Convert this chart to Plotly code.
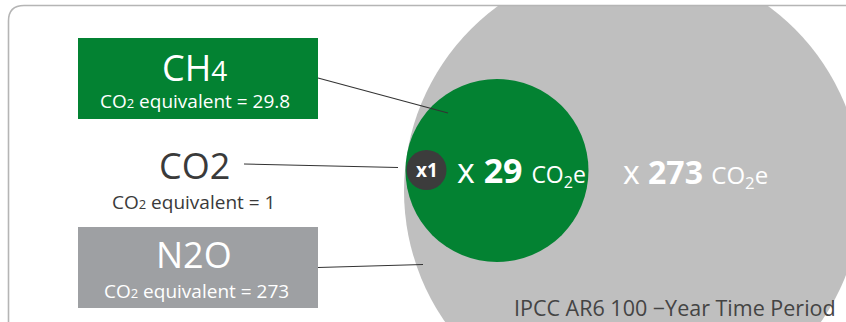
import plotly.graph_objects as go

# ---- data ----
gases = ["CH4", "CO2", "N2O"]
gas_main = ["CH", "CO2", "N2O"]
gas_small = ["4", "", ""]
co2_equiv = ["29.8", "1", "273"]
multipliers = ["1", "29", "273"]
footnote = "IPCC AR6 100 \u2212Year Time Period"

FONT = "Open Sans"
GREEN = "#038232"
GRAYBOX = "#9ea0a3"
GRAYCIRCLE = "#bfbfbf"
DARK = "#3c3c3c"
TXT = "#3a3a3a"

fig = go.Figure()
# invisible trace to establish the axes
fig.add_trace(go.Scatter(x=[0, 846], y=[0, 322], mode="markers",
                         marker=dict(opacity=0), hoverinfo="skip", showlegend=False))

shapes = []
# big gray circle (N2O)
cx, cy, r = 633, 191, 229
shapes.append(dict(type="circle", xref="x", yref="y", x0=cx - r, x1=cx + r, y0=cy - r, y1=cy + r,
                   fillcolor=GRAYCIRCLE, line=dict(width=0), layer="below"))
# green circle (CH4)
cx, cy, r = 497, 170.5, 91.5
shapes.append(dict(type="circle", xref="x", yref="y", x0=cx - r, x1=cx + r, y0=cy - r, y1=cy + r,
                   fillcolor=GREEN, line=dict(width=0), layer="below"))
# dark circle (CO2)
cx, cy, r = 426.5, 170, 20
shapes.append(dict(type="circle", xref="x", yref="y", x0=cx - r, x1=cx + r, y0=cy - r, y1=cy + r,
                   fillcolor=DARK, line=dict(width=0), layer="below"))
# white mask above border
shapes.append(dict(type="rect", xref="x", yref="y", x0=-5, x1=860, y0=-10, y1=6,
                   fillcolor="white", line=dict(width=0), layer="below"))
# rounded frame
shapes.append(dict(type="path", xref="x", yref="y",
                   path="M 8.5,345 L 8.5,21 Q 8.5,5.5 24,5.5 L 870,5.5",
                   line=dict(color="#b5b5b5", width=1.6), layer="above"))
# label boxes
shapes.append(dict(type="rect", xref="x", yref="y", x0=78, x1=318, y0=38, y1=119,
                   fillcolor=GREEN, line=dict(width=0), layer="below"))
shapes.append(dict(type="rect", xref="x", yref="y", x0=78, x1=318, y0=227, y1=308,
                   fillcolor=GRAYBOX, line=dict(width=0), layer="below"))
# connector lines
for (x0, y0, x1, y1) in [(318, 78, 448, 113), (244, 164, 398, 167.5), (318, 267.5, 423, 264.5)]:
    shapes.append(dict(type="line", xref="x", yref="y", x0=x0, y0=y0, x1=x1, y1=y1,
                       line=dict(color="#333333", width=1.1), layer="above"))

ann = []
def A(x, y, text, size, color, xanchor="center", yanchor="middle"):
    ann.append(dict(x=x, y=y, xref="x", yref="y", text=text, showarrow=False,
                    xanchor=xanchor, yanchor=yanchor,
                    font=dict(family=FONT, size=size, color=color)))

def eq_text(v):
    return "CO<span style='font-size:13px'>2</span> equivalent = " + v

# titles
A(194, 67, gas_main[0] + "<span style='font-size:28px'>" + gas_small[0] + "</span>", 36, "white")
A(195, 101, eq_text(co2_equiv[0]), 19, "white")
A(194, 165, gas_main[1], 36, TXT)
A(193, 202, eq_text(co2_equiv[1]), 19, TXT)
A(194, 254, gas_main[2], 36, "white")
A(196, 291, eq_text(co2_equiv[2]), 19, "white")

# circle labels
A(426.5, 170, "<b>x" + multipliers[0] + "</b>", 19, "white")
A(455, 170, "x <b>" + multipliers[1] + "</b> <span style='font-size:23px'>CO<sub>2</sub>e</span>",
  34, "white", xanchor="left")
A(621, 172, "x <b>" + multipliers[2] + "</b> <span style='font-size:24px'>CO<sub>2</sub>e</span>",
  32, "white", xanchor="left")

A(838, 307, footnote, 21.5, "#444444", xanchor="right")

fig.update_layout(
    width=846, height=322,
    margin=dict(l=0, r=0, t=0, b=0),
    paper_bgcolor="white", plot_bgcolor="white",
    xaxis=dict(range=[0, 846], visible=False, fixedrange=True),
    yaxis=dict(range=[322, 0], visible=False, fixedrange=True),
    shapes=shapes, annotations=ann, showlegend=False,
)
fig.write_html("out.html", config={"displayModeBar": False})
